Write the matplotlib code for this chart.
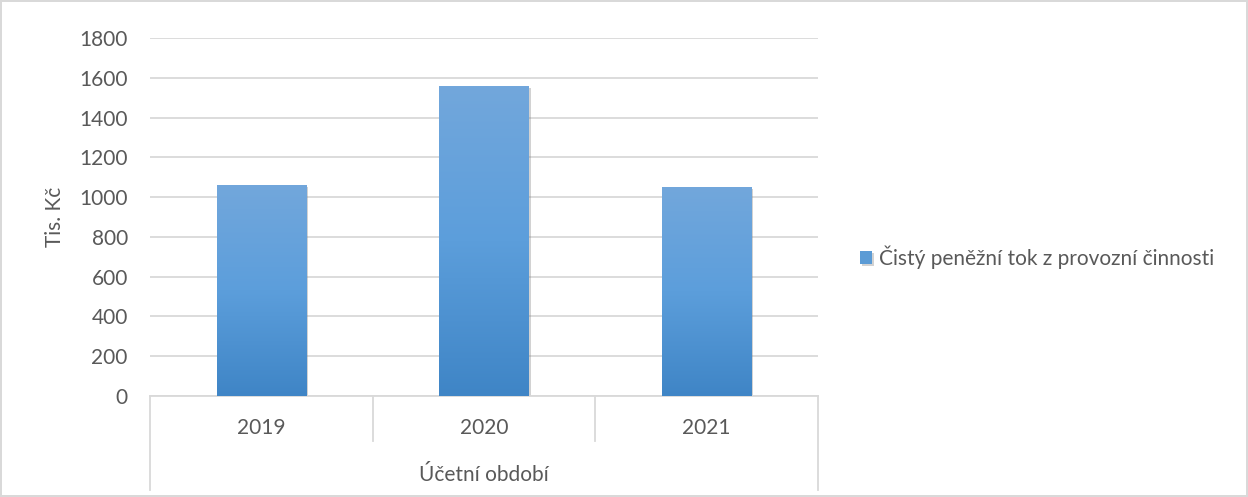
import numpy as np
import matplotlib
matplotlib.use("Agg")
import matplotlib.pyplot as plt
import matplotlib.patheffects as pe
from matplotlib.colors import LinearSegmentedColormap
from matplotlib.transforms import blended_transform_factory

# Data
years = ["2019", "2020", "2021"]
values = [1060, 1558, 1050]
series_name = "Čistý peněžní tok z provozní činnosti"
y_label = "Tis. Kč"
x_label = "Účetní období"
y_ticks = [0, 200, 400, 600, 800, 1000, 1200, 1400, 1600, 1800]

plt.rcParams["font.family"] = ["Lato", "DejaVu Sans"]
text_color = "#595959"
grid_color = "#d9d9d9"
fs = 15

fig = plt.figure(figsize=(12.48, 4.97), dpi=100)
fig.patch.set_edgecolor("#d9d9d9")
fig.patch.set_linewidth(1.5)
ax = fig.add_axes([0.1202, 0.2032, 0.5353, 0.7203])

x = np.arange(len(years))
bars = ax.bar(x, values, width=0.4, color="#5b9bd5", zorder=2,
              path_effects=[pe.SimplePatchShadow(offset=(1.5, -1.5), shadow_rgbFace="#808080", alpha=0.35),
                            pe.Normal()])

# gradient fill inside each bar
cmap = LinearSegmentedColormap.from_list("grad", ["#3f85c6", "#5c9edb", "#72a7dc"])
grad = np.linspace(0, 1, 256).reshape(-1, 1)
for b in bars:
    x0, y0 = b.get_x(), b.get_y()
    w, h = b.get_width(), b.get_height()
    im = ax.imshow(grad, cmap=cmap, origin="lower", aspect="auto",
                   extent=(x0, x0 + w, y0, y0 + h), zorder=3)
    im.set_clip_path(b)

ax.set_xlim(-0.5, len(years) - 0.5)
ax.set_ylim(0, 1800)
ax.set_yticks(y_ticks)
ax.yaxis.grid(True, color=grid_color, linewidth=1.3, zorder=0)
ax.set_axisbelow(True)
for s in ["top", "right", "left"]:
    ax.spines[s].set_visible(False)
ax.spines["bottom"].set_color(grid_color)
ax.spines["bottom"].set_linewidth(1.3)
ax.tick_params(axis="y", length=0, pad=16, labelsize=fs, labelcolor=text_color)
ax.tick_params(axis="x", length=0, pad=16, labelsize=fs, labelcolor=text_color)
ax.set_xticks(x)
ax.set_xticklabels(years)
ax.set_ylabel(y_label, fontsize=fs, color=text_color, labelpad=10)

# multi-level category axis
tr = blended_transform_factory(ax.transData, ax.transAxes)
for i in range(len(years) + 1):
    xe = i - 0.5
    y_end = -0.262 if i in (0, len(years)) else -0.126
    ax.plot([xe, xe], [0, y_end], color=grid_color, linewidth=1.3,
            transform=tr, clip_on=False)
ax.text((len(years) - 1) / 2, -0.222, x_label, transform=tr, ha="center", va="center",
        fontsize=fs, color=text_color)

ax.legend([bars[0]], [series_name], loc="center left", bbox_to_anchor=(0.674, 0.483),
          bbox_transform=fig.transFigure, frameon=False, fontsize=fs,
          handlelength=0.6, handleheight=0.6, handletextpad=0.3, labelcolor=text_color)

fig.savefig("out.png", dpi=100)
